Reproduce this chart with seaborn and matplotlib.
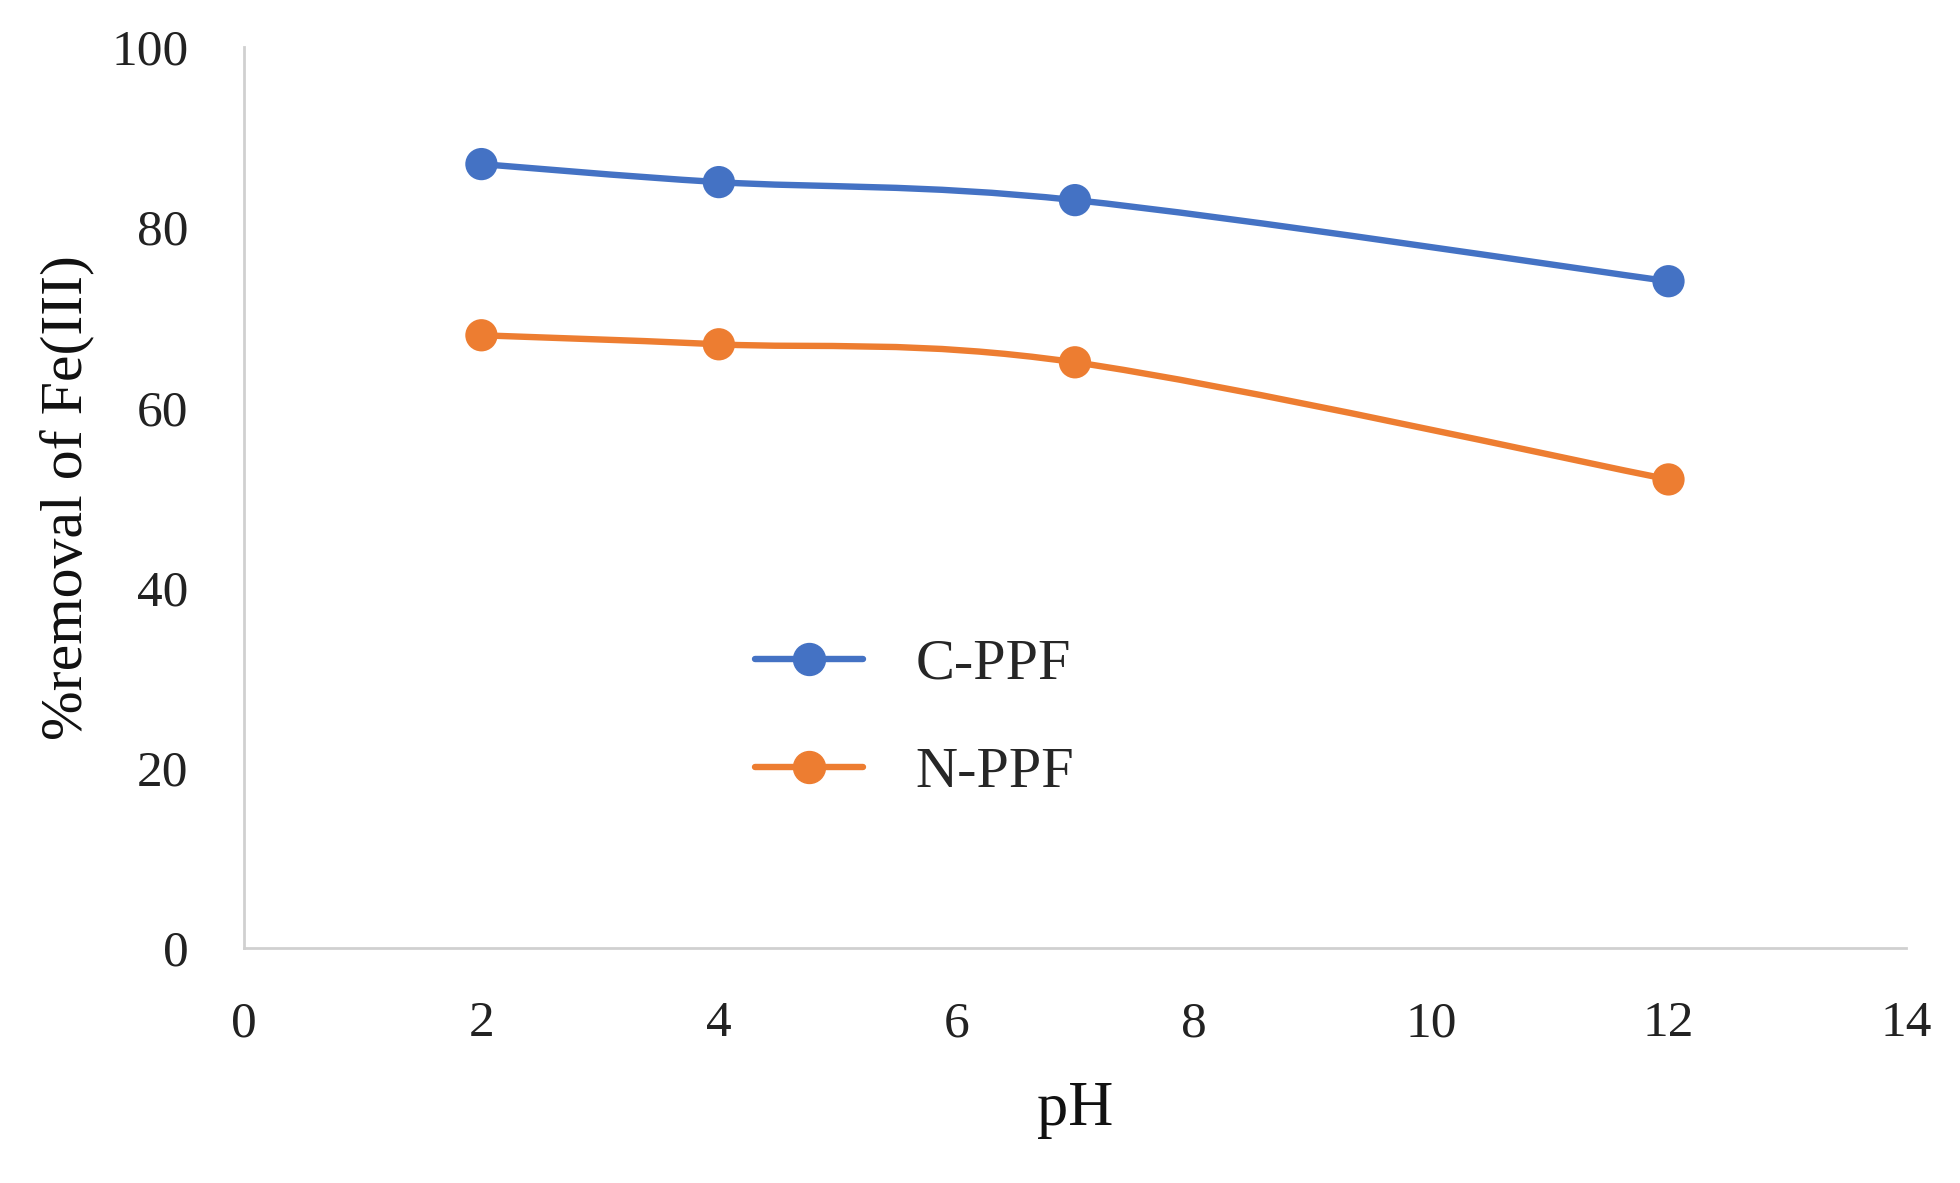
import numpy as np
import pandas as pd
import seaborn as sns
import matplotlib
matplotlib.use("Agg")
import matplotlib.pyplot as plt
from matplotlib.path import Path
from matplotlib.patches import PathPatch
from matplotlib.lines import Line2D

ph = [2, 4, 7, 12]
c_ppf = [87, 85, 83, 74]
n_ppf = [68, 67, 65, 52]
series_names = ["C-PPF", "N-PPF"]
colors = ["#4472C4", "#ED7D31"]
x_ticks = [0, 2, 4, 6, 8, 10, 12, 14]
y_ticks = [0, 20, 40, 60, 80, 100]

sns.set_theme(style="white")
plt.rcParams['font.family'] = ['Liberation Serif', 'DejaVu Serif']

df = pd.DataFrame({"pH": ph * 2, "value": c_ppf + n_ppf,
                   "series": [series_names[0]] * len(ph) + [series_names[1]] * len(ph)})

fig = plt.figure(figsize=(19.6, 11.83), dpi=100)
ax = fig.add_axes([0.1245, 0.1987, 0.9724 - 0.1245, 0.9603 - 0.1987])


def smooth_path(xs, ys):
    pts = np.column_stack([xs, ys]).astype(float)
    n = len(pts)
    verts = [pts[0]]
    codes = [Path.MOVETO]
    for i in range(n - 1):
        p0 = pts[i - 1] if i > 0 else pts[i]
        p1 = pts[i]
        p2 = pts[i + 1]
        p3 = pts[i + 2] if i + 2 < n else pts[i + 1]
        c1 = p1 + (p2 - p0) / 6.0
        c2 = p2 - (p3 - p1) / 6.0
        verts += [c1, c2, p2]
        codes += [Path.CURVE4] * 3
    return Path(verts, codes)


for name, col in zip(series_names, colors):
    sub = df[df["series"] == name]
    patch = PathPatch(smooth_path(sub["pH"].values, sub["value"].values),
                      facecolor="none", edgecolor=col, lw=4.6,
                      capstyle="round", zorder=2)
    ax.add_patch(patch)

sns.scatterplot(data=df, x="pH", y="value", hue="series", palette=colors,
                s=540, edgecolor="none", linewidth=0, ax=ax, legend=False, zorder=3)

ax.set_xlim(0, 14)
ax.set_ylim(0, 100)
ax.set_xticks(x_ticks)
ax.set_yticks(y_ticks)
ax.tick_params(axis="both", length=0, labelsize=37, colors="#222222")
ax.tick_params(axis="x", pad=38)
ax.tick_params(axis="y", pad=40)
for side in ["top", "right"]:
    ax.spines[side].set_visible(False)
for side in ["left", "bottom"]:
    ax.spines[side].set_color("#d0d0d0")
    ax.spines[side].set_linewidth(2)
ax.grid(False)

ax.set_xlabel("pH", fontsize=45, color="#111111", labelpad=24)
ax.set_ylabel("%removal of Fe(III)", fontsize=43, color="#111111", labelpad=12)

handles = [Line2D([0], [0], color=c, lw=4.6, marker="o", markersize=23,
                  solid_capstyle="round") for c in colors]
leg = ax.legend(handles, series_names, loc="center left",
                bbox_to_anchor=(0.276, 0.2545), frameon=False, fontsize=42,
                handlelength=1.85, handletextpad=0.9, labelspacing=0.95)

fig.savefig("out.png", dpi=100)
